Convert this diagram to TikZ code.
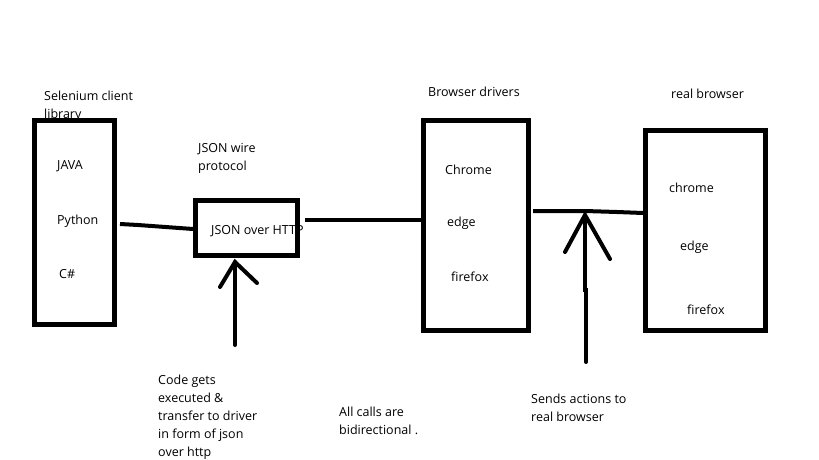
\documentclass[tikz,border=0pt]{standalone}
\usepackage{fontspec}
\setmainfont{Open Sans}
\begin{document}
\begin{tikzpicture}[x=1pt,y=-1pt,
  txt/.style={inner sep=0pt,anchor=west,font=\fontsize{12.5}{18}\selectfont},
  mtxt/.style={inner sep=0pt,anchor=north west,align=left,font=\fontsize{12.5}{18}\selectfont},
  blk/.style={draw=black,line width=5pt,inner sep=0pt},
  wire/.style={draw=black,line width=4pt},
  arr/.style={draw=black,line width=4pt,line cap=round}]
\useasboundingbox[fill=white] (0,0) rectangle (819,460);
% texts under boxes
\node[mtxt] (libt) at (44,91) {Selenium client\\library};
\node[mtxt] (jwt) at (198,143) {JSON wire\\protocol};
\node[txt] (jh) at (211,231) {JSON over HTTP};
\node[txt] (bdt) at (428,92) {Browser drivers};
\node[txt] (rbt) at (671,94) {real browser};
% boxes
\node[blk,minimum width=80.5pt,minimum height=204.5pt] (lib) at (74.25,222.25) {};
\node[blk,minimum width=102pt,minimum height=55pt] (json) at (246.5,228) {};
\node[blk,minimum width=105pt,minimum height=210pt] (drv) at (475.5,225) {};
\node[blk,minimum width=120pt,minimum height=200pt] (rb) at (705.5,230.5) {};
% inner items
\node[txt] (java) at (57,166) {JAVA};
\node[txt] (py) at (57,221) {Python};
\node[txt] (cs) at (59,274) {C\#};
\node[txt] (c1) at (445,170) {Chrome};
\node[txt] (e1) at (447,223) {edge};
\node[txt] (f1) at (451,277) {firefox};
\node[txt] (c2) at (669,188) {chrome};
\node[txt] (e2) at (680,247) {edge};
\node[txt] (f2) at (687,310) {firefox};
% bottom notes
\node[mtxt] (n1) at (158,375) {Code gets\\executed \&\\transfer to driver\\in form of json\\over http};
\node[mtxt] (n2) at (339,407) {All calls are\\bidirectional .};
\node[mtxt] (n3) at (531,394) {Sends actions to\\real browser};
% connectors
\coordinate (w1a) at (120,224);
\coordinate (w1b) at ([yshift=-1pt]json.west);
\draw[wire] (w1a) -- (138,225) -- (w1b);
\coordinate (w2a) at (305,220);
\draw[wire] (w2a) -- (drv.west |- w2a);
\coordinate (w3a) at (533,211);
\coordinate (w3m) at (585,211);
\coordinate (w3b) at (rb.west |- 0,213);
\draw[wire] (w3a) -- (w3m) -- (617,212) -- (w3b);
% arrows
\coordinate (a1t) at (235,262);
\coordinate (a1b) at (235,345);
\draw[arr] (a1b) -- (a1t);
\draw[arr] (220,287) -- (a1t) -- (257,283);
\coordinate (a2t) at (585,215);
\coordinate (a2b) at (586,362);
\draw[arr] (a2b) -- (586,290) -- (585,290) -- (a2t);
\draw[arr] (565,252) -- (a2t) -- (610,259);
\end{tikzpicture}
\end{document}
